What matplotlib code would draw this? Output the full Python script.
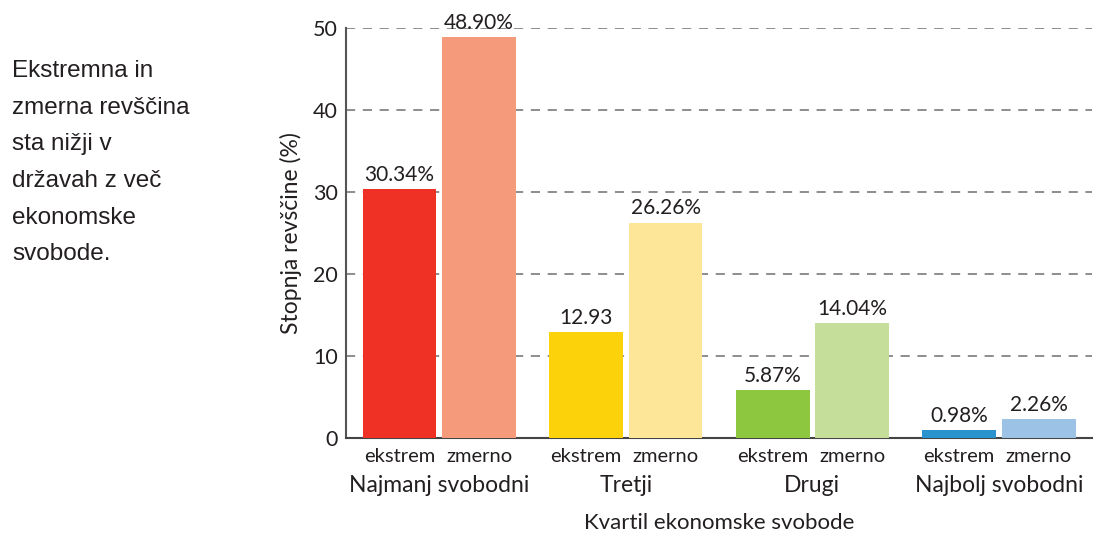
import matplotlib

matplotlib.use("Agg")

import matplotlib.pyplot as plt
import matplotlib.transforms as mtransforms
import numpy as np

# data
quartiles = ["Najmanj svobodni", "Tretji", "Drugi", "Najbolj svobodni"]
extreme = [30.34, 12.93, 5.87, 0.98]
moderate = [48.90, 26.26, 14.04, 2.26]
extreme_labels = ["30.34%", "12.93", "5.87%", "0.98%"]
moderate_labels = ["48.90%", "26.26%", "14.04%", "2.26%"]
kinds = ["ekstrem", "zmerno"]

extreme_colors = ["#EE3124", "#FCD20B", "#8DC63F", "#2A93CD"]
moderate_colors = ["#F59B7C", "#FDE698", "#C5DF9B", "#9CC2E5"]

FONT = "Lato"
TXT = "#231F20"

fig = plt.figure(figsize=(10.94, 5.36), dpi=100)
ax = fig.add_axes([0.3163, 0.1828, 0.682, 0.765])

x = np.arange(len(quartiles))
off, w = 0.213, 0.396

b1 = ax.bar(x - off, extreme, w, color=extreme_colors, zorder=3)
b2 = ax.bar(x + off, moderate, w, color=moderate_colors, zorder=3)
ax.bar_label(b1, labels=extreme_labels, padding=3, fontsize=15, family=FONT, color=TXT)
ax.bar_label(b2, labels=moderate_labels, padding=3, fontsize=15, family=FONT, color=TXT)

ax.set_xlim(-0.5, 3.5)
ax.set_ylim(0, 50)
ax.set_yticks(range(0, 51, 10))
ax.yaxis.grid(True, ls=(0, (6, 5)), color="#6f6f6f", lw=1.1, zorder=0)
ax.set_axisbelow(True)

ax.tick_params(axis="y", length=0, pad=6, labelsize=15.5, labelcolor=TXT)
for lab in ax.get_yticklabels():
    lab.set_family(FONT)

pos = np.concatenate([x - off, x + off])
ax.set_xticks(pos)
ax.set_xticklabels([kinds[0]] * 4 + [kinds[1]] * 4, family=FONT, fontsize=14.5, color=TXT)
ax.tick_params(axis="x", length=0, pad=7)

trans = mtransforms.blended_transform_factory(ax.transData, ax.transAxes)
for xi, name in zip(x, quartiles):
    ax.text(xi, -0.09, name, transform=trans, ha="center", va="top",
            fontsize=16.5, family=FONT, color=TXT)

ax.text(1.5, -0.183, "Kvartil ekonomske svobode", transform=trans, ha="center",
        va="top", fontsize=16, family=FONT, color=TXT)
ax.set_ylabel("Stopnja revščine (%)", family=FONT, fontsize=16.5, color=TXT, labelpad=8)

for s in ["top", "right"]:
    ax.spines[s].set_visible(False)
ax.spines["left"].set_color("#555555")
ax.spines["bottom"].set_color("#444444")
ax.spines["left"].set_linewidth(1.5)
ax.spines["bottom"].set_linewidth(1.5)

fig.text(0.011, 0.888, "Ekstremna in\nzmerna revščina\nsta nižji v\ndržavah z več\nekonomske\nsvobode.",
         ha="left", va="top", fontsize=17.5, family="Liberation Sans", color=TXT,
         linespacing=1.86)

fig.savefig("out.png", dpi=100, facecolor="white")
